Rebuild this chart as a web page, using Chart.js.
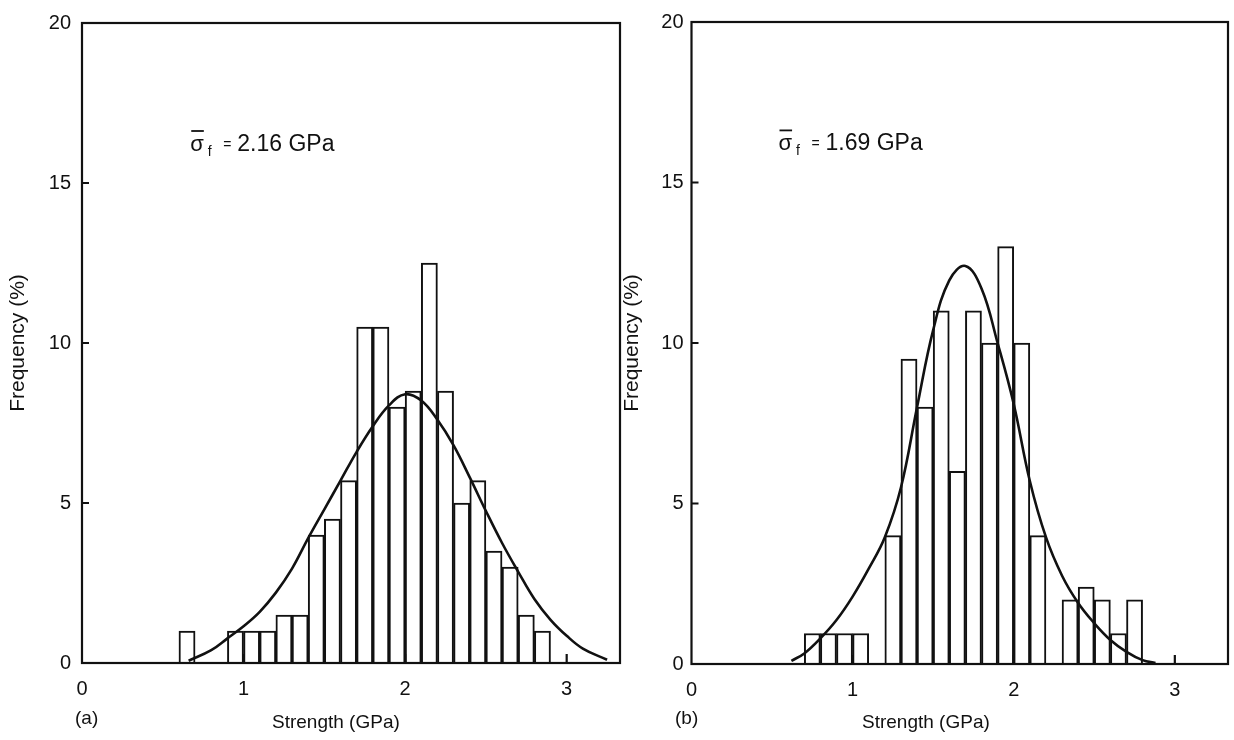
<!DOCTYPE html>
<html>
<head>
<meta charset="utf-8">
<script src="https://cdn.jsdelivr.net/npm/chart.js@4.4.1/dist/chart.umd.min.js"></script>
<style>
  html, body { margin: 0; padding: 0; background: #fff; }
  body { width: 1234px; height: 740px; position: relative; overflow: hidden; }
  canvas { position: absolute; top: 0; }
  #chartA { left: 0; }
  #chartB { left: 612px; }
  .tag { position: absolute; font: 19px "Liberation Sans", Arial, sans-serif; color: #111; white-space: nowrap; }
</style>
</head>
<body>
<canvas id="chartA" width="630" height="740"></canvas>
<canvas id="chartB" width="622" height="740"></canvas>
<div class="tag" style="left:75px; top:707px">(a)</div>
<div class="tag" style="left:675px; top:707px">(b)</div>
<div class="tag" style="left:272px; top:711px">Strength (GPa)</div>
<div class="tag" style="left:862px; top:711px">Strength (GPa)</div>
<script>
// histogram bins are 0.1 GPa wide, listed by their lower edge
const binWidth = 0.1;

// (a) sigma_f = 2.16 GPa
const binsA = [0.6, 0.9, 1.0, 1.1, 1.2, 1.3, 1.4, 1.5, 1.6, 1.7, 1.8, 1.9, 2.0, 2.1, 2.2, 2.3, 2.4, 2.5, 2.6, 2.7, 2.8];
const freqA = [1, 1, 1, 1, 1.5, 1.5, 4, 4.5, 5.7, 10.5, 10.5, 8, 8.5, 12.5, 8.5, 5, 5.7, 3.5, 3, 1.5, 1];
const curveAx = [0.66, 0.8, 0.9, 1.0, 1.1, 1.2, 1.3, 1.4, 1.5, 1.6, 1.7, 1.8, 1.9, 2.0, 2.1, 2.2, 2.3, 2.4, 2.5, 2.6, 2.7, 2.8, 2.9, 3.0, 3.1, 3.25];
const curveAy = [0.07, 0.4, 0.77, 1.15, 1.6, 2.2, 2.95, 3.9, 4.8, 5.7, 6.6, 7.4, 8.05, 8.4, 8.2, 7.6, 6.8, 5.8, 4.75, 3.75, 2.85, 2.0, 1.35, 0.85, 0.45, 0.1];

// (b) sigma_f = 1.69 GPa
const binsB = [0.7, 0.8, 0.9, 1.0, 1.2, 1.3, 1.4, 1.5, 1.6, 1.7, 1.8, 1.9, 2.0, 2.1, 2.3, 2.4, 2.5, 2.6, 2.7];
const freqB = [0.95, 0.95, 0.95, 0.95, 4, 9.5, 8, 11, 6, 11, 10, 13, 10, 4, 2, 2.4, 2, 0.95, 2];
const curveBx = [0.62, 0.7, 0.8, 0.9, 1.0, 1.1, 1.2, 1.3, 1.4, 1.5, 1.6, 1.7, 1.8, 1.9, 2.0, 2.1, 2.2, 2.3, 2.4, 2.5, 2.6, 2.7, 2.8, 2.88];
const curveBy = [0.1, 0.33, 0.8, 1.37, 2.1, 2.97, 3.95, 5.5, 8.0, 10.4, 11.95, 12.4, 11.7, 10.0, 8.1, 5.7, 3.95, 2.75, 1.9, 1.27, 0.75, 0.38, 0.12, 0.03];

const xTicks = [0, 1, 2, 3];
const yTicks = [0, 5, 10, 15, 20];

const ink = '#111';
const family = '"Liberation Sans", Arial, sans-serif';

function histPoints(starts, freqs) {
    return starts.map((s, i) => ({ x: s + binWidth / 2, y: freqs[i] }));
}

function curvePoints(xs, ys) {
    return xs.map((x, i) => ({ x: x, y: ys[i] }));
}

// box round the plot and the short inward tick marks
const framePlugin = {
    id: 'frame',
    afterDatasetsDraw(chart) {
        const { ctx, chartArea: a, scales } = chart;
        ctx.save();
        ctx.strokeStyle = ink;
        ctx.lineWidth = 2.2;
        ctx.strokeRect(a.left, a.top, a.right - a.left, a.bottom - a.top);
        ctx.beginPath();
        scales.y.ticks.forEach(t => {
            if (t.value > 0 && t.value < 20) {
                const py = scales.y.getPixelForValue(t.value);
                ctx.moveTo(a.left, py);
                ctx.lineTo(a.left + 7, py);
            }
        });
        scales.x.ticks.forEach(t => {
            if (t.value > 0) {
                const px = scales.x.getPixelForValue(t.value);
                ctx.moveTo(px, a.bottom);
                ctx.lineTo(px, a.bottom - 9);
            }
        });
        ctx.stroke();
        ctx.restore();
    }
};

// "sigma-bar_f = x.xx GPa" note
const meanLabelPlugin = {
    id: 'meanLabel',
    afterDraw(chart, args, opts) {
        const { ctx, scales } = chart;
        const x = scales.x.getPixelForValue(opts.x);
        const y = scales.y.getPixelForValue(opts.y);
        ctx.save();
        ctx.fillStyle = ink;
        ctx.strokeStyle = ink;
        ctx.textBaseline = 'alphabetic';
        ctx.textAlign = 'left';
        ctx.font = '22px ' + family;
        ctx.fillText('σ', x, y);
        const sw = ctx.measureText('σ').width;
        ctx.lineWidth = 1.8;
        ctx.beginPath();
        ctx.moveTo(x + 1, y - 20);
        ctx.lineTo(x + sw, y - 20);
        ctx.stroke();
        ctx.font = '14px ' + family;
        ctx.fillText('f', x + sw + 4, y + 5);
        ctx.font = '14px ' + family;
        ctx.fillText('=', x + 33, y - 2);
        ctx.font = '23px ' + family;
        ctx.fillText(opts.value, x + 47, y);
        ctx.restore();
    }
};

function makeChart(id, cfg) {
    return new Chart(document.getElementById(id), {
        type: 'bar',
        data: {
            datasets: [
                {
                    type: 'line',
                    data: curvePoints(cfg.curveX, cfg.curveY),
                    borderColor: ink,
                    borderWidth: 2.6,
                    pointRadius: 0,
                    tension: 0.4,
                    fill: false,
                    order: 0
                },
                {
                    type: 'bar',
                    data: histPoints(cfg.bins, cfg.freq),
                    backgroundColor: '#fff',
                    borderColor: ink,
                    borderWidth: 2,
                    borderSkipped: 'bottom',
                    barPercentage: 1,
                    categoryPercentage: 1,
                    order: 1
                }
            ]
        },
        options: {
            responsive: false,
            animation: false,
            layout: { padding: cfg.padding },
            plugins: {
                legend: { display: false },
                tooltip: { enabled: false },
                meanLabel: cfg.note
            },
            scales: {
                x: {
                    type: 'linear',
                    min: 0,
                    max: 3.33,
                    offset: false,
                    grid: { display: false, offset: false, drawTicks: false },
                    border: { display: false },
                    afterBuildTicks: s => { s.ticks = xTicks.map(v => ({ value: v })); },
                    afterFit: s => { s.height = cfg.xHeight; },
                    ticks: { color: ink, padding: 14, font: { family: family, size: 20 } }
                },
                y: {
                    min: 0,
                    max: 20,
                    grid: { display: false, drawTicks: false },
                    border: { display: false },
                    afterBuildTicks: s => { s.ticks = yTicks.map(v => ({ value: v })); },
                    afterFit: s => { s.width = cfg.yWidth; },
                    ticks: { color: ink, padding: cfg.yPad, font: { family: family, size: 20 } },
                    title: {
                        display: true,
                        text: 'Frequency (%)',
                        color: ink,
                        padding: { top: cfg.titlePad, bottom: 0 },
                        font: { family: family, size: 21 }
                    }
                }
            }
        },
        plugins: [framePlugin, meanLabelPlugin]
    });
}

makeChart('chartA', {
    bins: binsA, freq: freqA, curveX: curveAx, curveY: curveAy,
    padding: { top: 20, right: 10, bottom: 0, left: 0 },
    xHeight: 77, yWidth: 82, yPad: 11, titlePad: 6,
    note: { value: '2.16 GPa', x: 0.67, y: 16 }
});

makeChart('chartB', {
    bins: binsB, freq: freqB, curveX: curveBx, curveY: curveBy,
    padding: { top: 22, right: 6, bottom: 0, left: 0 },
    xHeight: 76, yWidth: 79.5, yPad: 8, titlePad: 8,
    note: { value: '1.69 GPa', x: 0.54, y: 16 }
});
</script>
</body>
</html>
